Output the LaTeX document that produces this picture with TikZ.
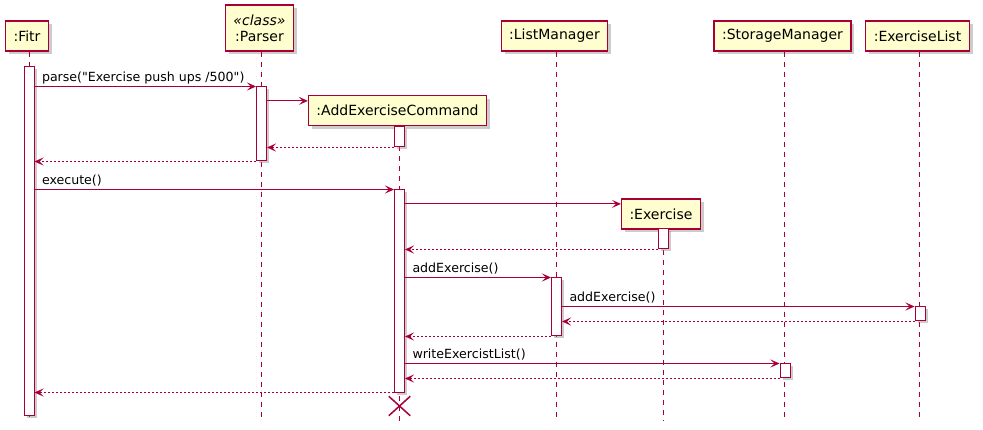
\documentclass[tikz,border=0pt]{standalone}
\usepackage{fontspec}
\setmainfont{DejaVu Sans}[Ligatures=TeXOff]
\usetikzlibrary{arrows.meta,shadows,shapes.misc}
\definecolor{umlred}{HTML}{A80036}
\definecolor{umlfill}{HTML}{FEFECE}
\tikzset{
  part/.style={draw=umlred, fill=umlfill, line width=1.2pt, inner xsep=8pt, minimum height=30pt,
    font=\fontsize{14}{16}\selectfont, drop shadow={shadow xshift=3.5pt, shadow yshift=-3.5pt, opacity=0.4}},
  act/.style={draw=umlred, fill=white, line width=1pt, minimum width=10pt, inner sep=0pt,
    drop shadow={shadow xshift=2.5pt, shadow yshift=-2.5pt, opacity=0.4}},
  life/.style={umlred, line width=1pt, dash pattern=on 5pt off 5pt},
  msg/.style={umlred, line width=1pt, -{Stealth[length=9pt, width=8pt, inset=4pt]}},
  ret/.style={msg, dash pattern=on 2pt off 2pt},
  lbl/.style={anchor=base west, inner sep=0pt, xshift=7pt, yshift=4.5pt, text=black,
    font=\fontsize{12.6}{15}\selectfont},
}
\begin{document}
\begin{tikzpicture}[x=1pt, y=-1pt]
    \useasboundingbox (0,0) rectangle (983,430);
    \coordinate (bottom) at (0,421);
    % participants
    \node[part] (fitr) at (27,36) {:Fitr};
    \node[part, minimum height=46pt, align=center] (parser) at (259.5,28) {{\itshape «class»}\\:Parser};
    \node[part] (aec) at (397.5,110.5) {:AddExerciseCommand};
    \node[part] (ex) at (661,214) {:Exercise};
    \node[part] (lm) at (554.5,36) {:ListManager};
    \node[part] (sm) at (782.5,36) {:StorageManager};
    \node[part] (el) at (917.5,36) {:ExerciseList};
    % lifelines
    \coordinate (fitrL) at ([xshift=2pt]fitr.south);
    \coordinate (parserL) at ([xshift=2pt]parser.south);
    \coordinate (aecL) at ([xshift=2pt]aec.south);
    \coordinate (exL) at ([xshift=2pt]ex.south);
    \coordinate (lmL) at ([xshift=2pt]lm.south);
    \coordinate (smL) at ([xshift=2pt]sm.south);
    \coordinate (elL) at ([xshift=2pt]el.south);
    \draw[life] (fitrL) -- (fitrL |- bottom);
    \draw[life] (parserL) -- (parserL |- bottom);
    \draw[life] (aecL) -- (aecL |- bottom);
    \draw[life] (exL) -- (exL |- bottom);
    \draw[life] (lmL) -- (lmL |- bottom);
    \draw[life] (smL) -- (smL |- bottom);
    \draw[life] (elL) -- (elL |- bottom);
    % activations
    \node[act, minimum height=348pt] (fitrAct) at (29,241) {};
    \node[act, minimum height=74pt] (parserAct) at (261.5,124) {};
    \node[act, minimum height=20pt] (aecAct1) at (399.5,137) {};
    \node[act, minimum height=202pt] (aecAct2) at (399.5,291) {};
    \node[act, minimum height=20pt] (exAct) at (663,239) {};
    \node[act, minimum height=58pt] (lmAct) at (556.5,307) {};
    \node[act, minimum height=14pt] (elAct) at (920,314) {};
    \node[act, minimum height=14pt] (smAct) at (785,371) {};
    \coordinate (aecIn) at ([yshift=-6pt]aec.north west);
    \coordinate (exIn) at ([yshift=-5.5pt]ex.north west);
    % messages
    \draw[msg] (fitrAct.east |- parserAct.north) node[lbl] {parse("Exercise push ups /500")} -- (parserAct.north west);
    \draw[msg] (parserAct.east |- aecIn) -- (aecIn);
    \draw[ret] (aecAct1.south west) -- (parserAct.east |- aecAct1.south);
    \draw[ret] (parserAct.south west) -- (fitrAct.east |- parserAct.south);
    \draw[msg] (fitrAct.east |- aecAct2.north) node[lbl] {execute()} -- (aecAct2.north west);
    \draw[msg] (aecAct2.east |- exIn) -- (exIn);
    \draw[ret] (exAct.south west) -- (aecAct2.east |- exAct.south);
    \draw[msg] (aecAct2.east |- lmAct.north) node[lbl] {addExercise()} -- (lmAct.north west);
    \draw[msg] (lmAct.east |- elAct.north) node[lbl] {addExercise()} -- (elAct.north west);
    \draw[ret] (elAct.south west) -- (lmAct.east |- elAct.south);
    \draw[ret] (lmAct.south west) -- (aecAct2.east |- lmAct.south);
    \draw[msg] (aecAct2.east |- smAct.north) node[lbl] {writeExercistList()} -- (smAct.north west);
    \draw[ret] (smAct.south west) -- (aecAct2.east |- smAct.south);
    \draw[ret] (aecAct2.south west) -- (fitrAct.east |- aecAct2.south);
    % destroy
    \node[draw=umlred, cross out, line width=1.5pt, minimum width=20pt, minimum height=18pt, inner sep=0pt] (aecEnd) at (399.5,406) {};
\end{tikzpicture}
\end{document}
